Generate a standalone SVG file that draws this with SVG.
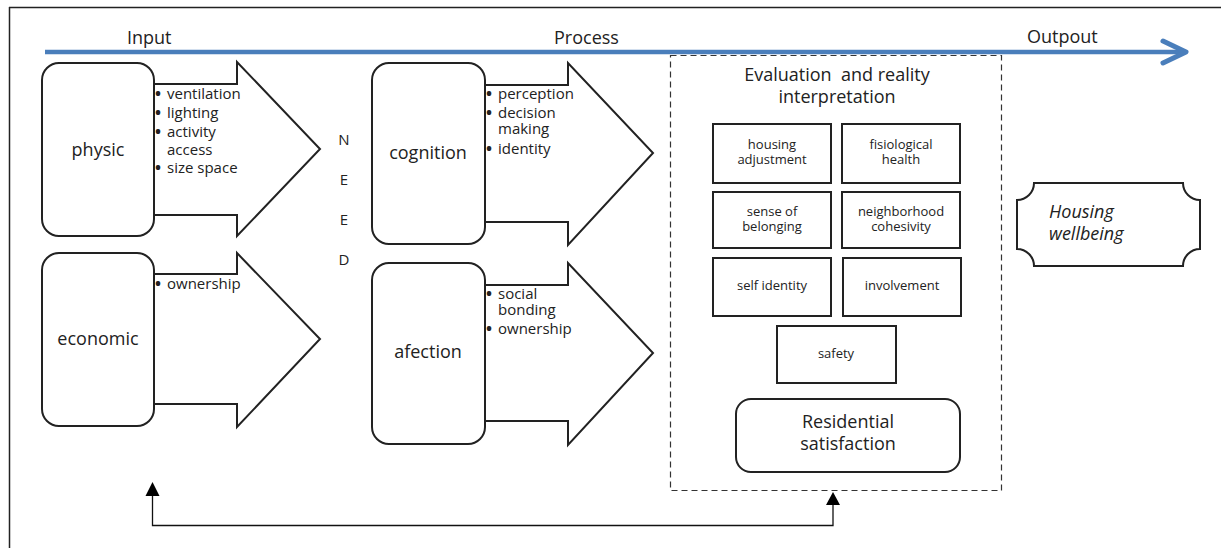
<svg xmlns="http://www.w3.org/2000/svg" width="1221" height="548" viewBox="0 0 1221 548">
<style>
text{font-family:"Open Sans","Liberation Sans",sans-serif;fill:#222}
.big{font-size:18px}
.mid{font-size:15px}
.bul{font-size:16px;font-weight:bold}
.sm{font-size:13px}
.lbl{font-size:18px;text-anchor:middle}
.c{text-anchor:middle}
.box{fill:#fff;stroke:#222;stroke-width:2}
.arr{fill:#fff;stroke:#222;stroke-width:2;stroke-linejoin:miter}
.sq{fill:#fff;stroke:#222;stroke-width:2}
.conn{fill:none;stroke:#111;stroke-width:1.3}
.head{fill:#000}
</style>
<rect width="1221" height="548" fill="#fff"/>
<g id="frame" fill="none" stroke="#222" stroke-width="1.5">
<line x1="9" y1="7.5" x2="1221" y2="7.5"/>
<line x1="9.5" y1="7" x2="9.5" y2="548"/>
</g>
<g id="timeline">
<line x1="45" y1="52" x2="1184" y2="52" stroke="#4a7ebb" stroke-width="4.5"/>
<polyline points="1163,41 1186,52 1163,63" fill="none" stroke="#4a7ebb" stroke-width="5" stroke-linecap="round" stroke-linejoin="round"/>
<text class="big" x="127" y="44">Input</text>
<text class="big" x="554" y="44">Process</text>
<text class="big" x="1027" y="43">Outpout</text>
</g>
<g id="physic">
<polygon class="arr" points="150,84 237,84 237,62 320,149 237,236 237,215 150,215"/>
<rect class="box" x="42" y="63" width="112" height="173" rx="17"/>
<text class="lbl" x="98" y="156">physic</text>
<text class="bul" x="155" y="99">•</text><text class="mid" x="167" y="99">ventilation</text>
<text class="bul" x="155" y="118">•</text><text class="mid" x="167" y="118">lighting</text>
<text class="bul" x="155" y="137">•</text><text class="mid" x="167" y="137">activity</text>
<text class="mid" x="167" y="155">access</text>
<text class="bul" x="155" y="173">•</text><text class="mid" x="167" y="173">size space</text>
</g>
<g id="economic">
<polygon class="arr" points="150,274 237,274 237,253 320,339 237,427 237,404 150,404"/>
<rect class="box" x="42" y="253" width="112" height="173" rx="17"/>
<text class="lbl" x="98" y="345">economic</text>
<text class="bul" x="155" y="289">•</text><text class="mid" x="167" y="289">ownership</text>
</g>
<g id="need" class="mid">
<text class="c" x="344" y="145">N</text>
<text class="c" x="344" y="185">E</text>
<text class="c" x="344" y="225">E</text>
<text class="c" x="344" y="265">D</text>
</g>
<g id="cognition">
<polygon class="arr" points="480,85 568,85 568,63 653,153 568,245 568,222 480,222"/>
<rect class="box" x="372" y="63" width="113" height="181" rx="17"/>
<text class="lbl" x="428" y="159">cognition</text>
<text class="bul" x="486" y="99">•</text><text class="mid" x="498" y="99">perception</text>
<text class="bul" x="486" y="118">•</text><text class="mid" x="498" y="118">decision</text>
<text class="mid" x="498" y="134">making</text>
<text class="bul" x="486" y="154">•</text><text class="mid" x="498" y="154">identity</text>
</g>
<g id="afection">
<polygon class="arr" points="480,285 568,285 568,263 653,353 568,445 568,421 480,421"/>
<rect class="box" x="372" y="263" width="113" height="181" rx="17"/>
<text class="lbl" x="428" y="358">afection</text>
<text class="bul" x="486" y="299">•</text><text class="mid" x="498" y="299">social</text>
<text class="mid" x="498" y="315">bonding</text>
<text class="bul" x="486" y="334">•</text><text class="mid" x="498" y="334">ownership</text>
</g>
<g id="evaluation">
<rect x="670.5" y="55.5" width="331" height="435" fill="none" stroke="#333" stroke-width="1.2" stroke-dasharray="6,4"/>
<text class="lbl" x="837" y="81" xml:space="preserve">Evaluation  and reality</text>
<text class="lbl" x="837" y="103">interpretation</text>
</g>
<g id="housing-adjustment">
<rect class="sq" x="713" y="124" width="118" height="59"/>
<text class="sm c" x="772" y="149">housing</text>
<text class="sm c" x="772" y="164">adjustment</text>
</g>
<g id="fisiological-health">
<rect class="sq" x="842" y="124" width="118" height="59"/>
<text class="sm c" x="901" y="149">fisiological</text>
<text class="sm c" x="901" y="164">health</text>
</g>
<g id="sense-of-belonging">
<rect class="sq" x="713" y="192" width="118" height="56"/>
<text class="sm c" x="772" y="216">sense of</text>
<text class="sm c" x="772" y="231">belonging</text>
</g>
<g id="neighborhood-cohesivity">
<rect class="sq" x="842" y="192" width="118" height="56"/>
<text class="sm c" x="901" y="216">neighborhood</text>
<text class="sm c" x="901" y="231">cohesivity</text>
</g>
<g id="self-identity">
<rect class="sq" x="713" y="258" width="118" height="58"/>
<text class="sm c" x="772" y="290">self identity</text>
</g>
<g id="involvement">
<rect class="sq" x="843" y="258" width="118" height="58"/>
<text class="sm c" x="902" y="290">involvement</text>
</g>
<g id="safety">
<rect class="sq" x="777" y="326" width="119" height="57"/>
<text class="sm c" x="836" y="358">safety</text>
</g>
<g id="residential-satisfaction">
<rect class="box" x="736" y="399" width="224" height="73" rx="15"/>
<text class="lbl" x="848" y="428">Residential</text>
<text class="lbl" x="848" y="450">satisfaction</text>
</g>
<g id="housing-wellbeing">
<path d="M1034,183 H1183 A17,17 0 0 0 1200,200 V249 A17,17 0 0 0 1183,266 H1034 A17,17 0 0 0 1017,249 V200 A17,17 0 0 0 1034,183 Z" fill="#fff" stroke="#222" stroke-width="2"/>
<text class="big" x="1049" y="218" font-style="italic">Housing</text>
<text class="big" x="1049" y="240" font-style="italic">wellbeing</text>
</g>
<g id="connectors">
<polyline class="conn" points="833,505 833,525.5 152.5,525.5 152.5,495"/>
<polygon class="head" points="833,492 840,505 826,505"/>
<polygon class="head" points="152.5,482 159.5,496 145.5,496"/>
</g>
</svg>
